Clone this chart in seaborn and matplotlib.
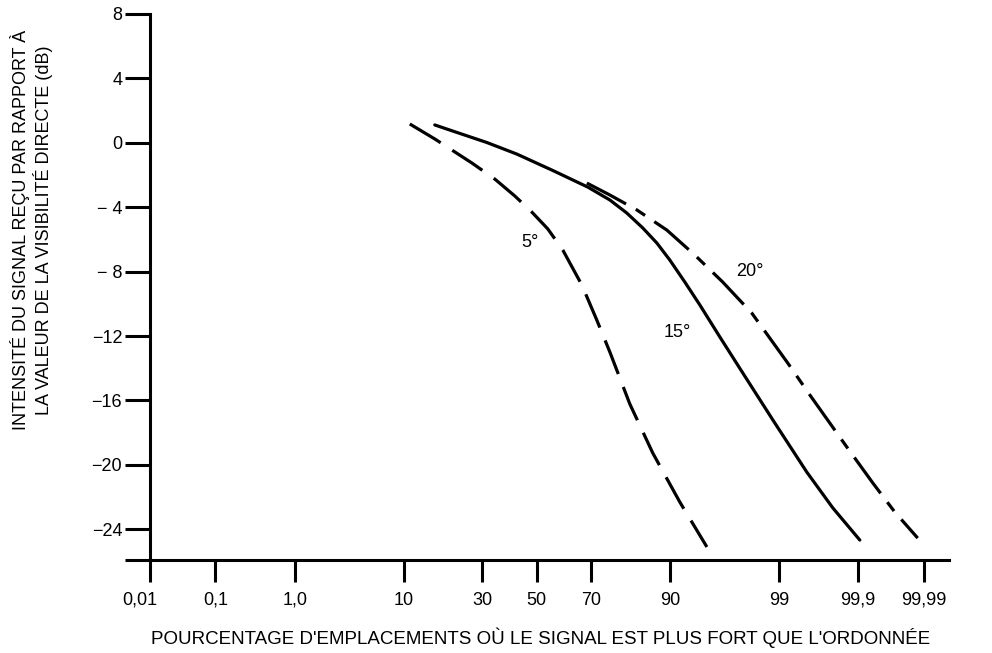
import numpy as np
import pandas as pd
import matplotlib
matplotlib.use("Agg")
import matplotlib.pyplot as plt
import matplotlib.transforms as mtransforms
import seaborn as sns
from math import erf

# ---------------- data ----------------
x_5 = [11.10, 16.33, 26.60, 34.31, 41.61, 48.09, 54.22, 59.87, 66.75, 71.80,
       75.87, 81.44, 86.76, 91.54, 94.90]
y_5 = [1.17, 0.24, -1.25, -2.25, -3.30, -4.30, -5.35, -6.66, -8.83, -11.01,
       -12.99, -16.22, -19.27, -22.31, -25.1]

x_15 = [16.33, 20.96, 31.53, 42.39, 56.12, 68.8, 75.87, 80.65, 84.59, 87.57,
        89.95, 92.27, 94.15, 96.08, 97.62, 98.84, 99.528, 99.779, 99.905]
y_15 = [1.11, 0.73, 0.02, -0.70, -1.72, -2.75, -3.55, -4.36, -5.29, -6.22,
        -7.28, -8.65, -10.07, -12.06, -14.30, -17.22, -20.45, -22.68, -24.67]

x_20 = [68.47, 75.87, 83.20, 89.44, 93.56, 96.31, 98.06, 99.209, 99.567,
        99.856, 99.9383, 99.9711, 99.9875]
y_20 = [-2.50, -3.24, -4.17, -5.42, -6.97, -8.65, -10.57, -13.68, -15.66,
        -18.89, -21.13, -22.93, -24.55]

x_ticks = [0.01, 0.1, 1, 10, 30, 50, 70, 90, 99, 99.9, 99.99]
x_ticklabels = ["0,01", "0,1", "1,0", "10", "30", "50", "70", "90", "99", "99,9", "99,99"]
y_ticks = [8, 4, 0, -4, -8, -12, -16, -20, -24]
y_ticklabels = ["8", "4", "0", "\u2212 4", "\u2212 8", "\u221212", "\u221216", "\u221220", "\u221224"]

curve_labels = ["5°", "15°", "20°"]
label_x = [47.3, 91.1, 97.97]
label_y = [-6.22, -11.81, -8.02]

x_title = "POURCENTAGE D'EMPLACEMENTS OÙ LE SIGNAL EST PLUS FORT QUE L'ORDONNÉE"
y_title = "INTENSITÉ DU SIGNAL REÇU PAR RAPPORT À\nLA VALEUR DE LA VISIBILITÉ DIRECTE (dB)"

# ---------------- normal probability scale ----------------
_a = [-3.969683028665376e+01, 2.209460984245205e+02, -2.759285104469687e+02,
      1.383577518672690e+02, -3.066479806614716e+01, 2.506628277459239e+00]
_b = [-5.447609879822406e+01, 1.615858368580409e+02, -1.556989798598866e+02,
      6.680131188771972e+01, -1.328068155288572e+01]
_c = [-7.784894002430293e-03, -3.223964580411365e-01, -2.400758277161838e+00,
      -2.549671010115819e+00, 4.374664141464968e+00, 2.938163982698783e+00]
_d = [7.784695709041462e-03, 3.224671290700398e-01, 2.445134137142996e+00,
      3.754408661907416e+00]


def _tail(q):
    return ((((((_c[0] * q + _c[1]) * q + _c[2]) * q + _c[3]) * q + _c[4]) * q + _c[5]) /
            ((((_d[0] * q + _d[1]) * q + _d[2]) * q + _d[3]) * q + 1))


def ppf(p):
    p = np.asarray(p, dtype=float)
    z = np.empty_like(p)
    plow = 0.02425
    lo = p < plow
    hi = p > 1 - plow
    mid = ~(lo | hi)
    z[lo] = _tail(np.sqrt(-2 * np.log(p[lo])))
    z[hi] = -_tail(np.sqrt(-2 * np.log(1 - p[hi])))
    q = p[mid] - 0.5
    r = q * q
    z[mid] = ((((((_a[0] * r + _a[1]) * r + _a[2]) * r + _a[3]) * r + _a[4]) * r + _a[5]) * q /
              (((((_b[0] * r + _b[1]) * r + _b[2]) * r + _b[3]) * r + _b[4]) * r + 1))
    return z


_verf = np.vectorize(erf, otypes=[float])


def forward(x):
    x = np.asarray(x, dtype=float)
    p = np.clip(x / 100.0, 1e-12, 1 - 1e-12)
    return ppf(p)


def inverse(z):
    z = np.asarray(z, dtype=float)
    return 100.0 * 0.5 * (1.0 + _verf(z / np.sqrt(2.0)))


# ---------------- figure ----------------
sns.set_style("ticks")
plt.rcParams["font.family"] = ["Liberation Sans", "DejaVu Sans"]
plt.rcParams["lines.scale_dashes"] = False

fig = plt.figure(figsize=(9.92, 6.53), dpi=100)
ax = fig.add_axes([150 / 992, 1 - 560 / 653, 799 / 992, 546 / 653])
ax.set_xscale("function", functions=(forward, inverse))

lw = 2.3
df5 = pd.DataFrame({"x": x_5, "y": y_5})
df15 = pd.DataFrame({"x": x_15, "y": y_15})
df20 = pd.DataFrame({"x": x_20, "y": y_20})

sns.lineplot(data=df5, x="x", y="y", ax=ax, color="black", lw=lw, sort=False,
             estimator=None, linestyle=(0, (26, 10)))
sns.lineplot(data=df15, x="x", y="y", ax=ax, color="black", lw=lw, sort=False,
             estimator=None, linestyle="-")
sns.lineplot(data=df20, x="x", y="y", ax=ax, color="black", lw=lw, sort=False,
             estimator=None, linestyle=(0, (32, 8, 8, 8)))

for t, lx, ly in zip(curve_labels, label_x, label_y):
    ax.text(lx, ly, t, ha="center", va="center", fontsize=13, color="black")

ymin = -25.91
ax.set_xlim(0.01, 99.9963)
ax.set_ylim(ymin, 8)

ax.set_xticks(x_ticks)
ax.set_xticklabels(x_ticklabels)
ax.set_yticks(y_ticks + [ymin])
ax.set_yticklabels(y_ticklabels + [""])
ax.minorticks_off()

ax.tick_params(axis="x", direction="out", length=16, width=2.2, pad=7,
               labelsize=13, colors="black")
ax.tick_params(axis="y", direction="out", length=18, width=2.2, pad=2,
               labelsize=13, colors="black")

# the first x label sits a little left of its tick in the reference
first = ax.get_xticklabels()[0]
first.set_transform(first.get_transform() +
                    mtransforms.ScaledTranslation(-0.10, 0, fig.dpi_scale_trans))

for s in ["top", "right"]:
    ax.spines[s].set_visible(False)
for s in ["left", "bottom"]:
    ax.spines[s].set_linewidth(2.2)
    ax.spines[s].set_color("black")

ax.set_xlabel(x_title, fontsize=13.5, color="black")
ax.set_ylabel(y_title, fontsize=13, color="black", linespacing=1.2)
ax.xaxis.set_label_coords(0.489, -0.124)
ax.yaxis.set_label_coords(-0.121, 0.604)

fig.savefig("out.png", dpi=100, facecolor="white")
